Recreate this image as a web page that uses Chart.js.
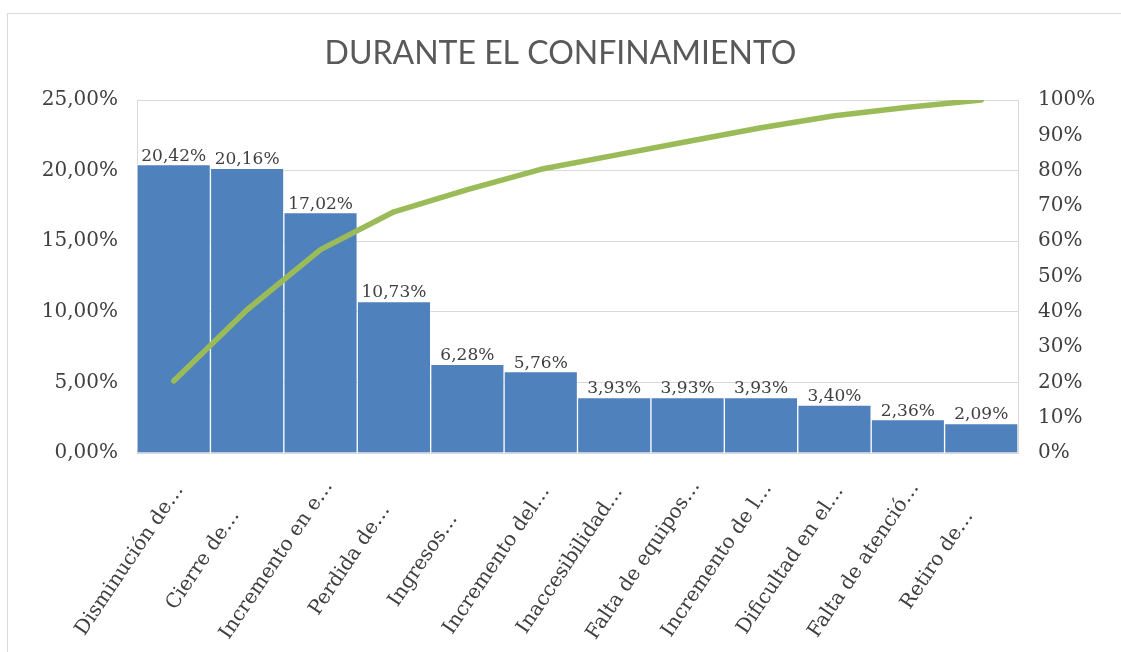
<!DOCTYPE html>
<html>
<head>
<meta charset="utf-8">
<script src="https://cdn.jsdelivr.net/npm/chart.js@4/dist/chart.umd.min.js"></script>
<style>
  body { margin: 0; background: #fff; }
  #wrap { position: relative; width: 1121px; height: 652px; }
  #frame { position: absolute; left: 7px; top: 13px; right: 0; bottom: 0; border-left: 1px solid #d9d9d9; border-top: 1px solid #d9d9d9; pointer-events: none; }
  canvas { position: absolute; left: 0; top: 0; }
</style>
</head>
<body>
<div id="wrap">
  <canvas id="graph" width="1121" height="652"></canvas>
  <div id="frame"></div>
</div>
<script>
const categories = [
  'Disminución de…', 'Cierre de…', 'Incremento en e…', 'Perdida de…',
  'Ingresos…', 'Incremento del…', 'Inaccesibilidad…', 'Falta de equipos…',
  'Incremento de l…', 'Dificultad en el…', 'Falta de atenció…', 'Retiro de…'
];
const shares = [20.42, 20.16, 17.02, 10.73, 6.28, 5.76, 3.93, 3.93, 3.93, 3.40, 2.36, 2.09];
const cumulative = [20.42, 40.58, 57.60, 68.33, 74.61, 80.37, 84.30, 88.23, 92.16, 95.56, 97.92, 100];
const leftTicks = [0, 5, 10, 15, 20, 25];
const rightTicks = [0, 10, 20, 30, 40, 50, 60, 70, 80, 90, 100];

const serif = 'DejaVu Serif';
const textColor = '#404040';

const fmt = v => v.toFixed(2).replace('.', ',') + '%';

// value labels on top of each bar
const barLabels = {
  id: 'barLabels',
  afterDatasetsDraw(chart) {
    const ctx = chart.ctx;
    const meta = chart.getDatasetMeta(0);
    ctx.save();
    ctx.font = '17px "' + serif + '"';
    ctx.fillStyle = textColor;
    ctx.textAlign = 'center';
    ctx.textBaseline = 'bottom';
    meta.data.forEach((bar, i) => {
      ctx.fillText(fmt(shares[i]), bar.x, bar.y);
    });
    ctx.restore();
  }
};

// slanted category names, each one centred on its own point below the bar
const slantedLabels = {
  id: 'slantedLabels',
  afterDraw(chart) {
    const ctx = chart.ctx;
    const xs = chart.scales.x;
    const midY = xs.bottom - 92;
    ctx.save();
    ctx.font = '20px "' + serif + '"';
    ctx.fillStyle = textColor;
    ctx.textAlign = 'center';
    ctx.textBaseline = 'middle';
    categories.forEach((name, i) => {
      ctx.save();
      ctx.translate(xs.getPixelForTick(i) - 44, midY);
      ctx.rotate(-56 * Math.PI / 180);
      ctx.fillText(name, 0, 0);
      ctx.restore();
    });
    ctx.restore();
  }
};

const graphCanvas = document.getElementById('graph');
const chart = new Chart(graphCanvas, {
  data: {
    labels: categories,
    datasets: [
      {
        type: 'bar',
        data: shares,
        backgroundColor: '#4f81bd',
        borderColor: 'rgba(255,255,255,0.35)',
        borderWidth: 1,
        borderSkipped: 'bottom',
        barPercentage: 1,
        categoryPercentage: 1,
        yAxisID: 'y',
        order: 2
      },
      {
        type: 'line',
        data: cumulative,
        borderColor: '#9bbb59',
        borderWidth: 5.5,
        borderCapStyle: 'round',
        borderJoinStyle: 'round',
        pointRadius: 0,
        tension: 0,
        yAxisID: 'y1',
        order: 1
      }
    ]
  },
  options: {
    responsive: false,
    animation: false,
    events: [],
    layout: { padding: 0 },
    plugins: {
      legend: { display: false },
      tooltip: { enabled: false },
      title: {
        display: true,
        text: 'DURANTE EL CONFINAMIENTO',
        color: '#595959',
        font: { family: 'Lato', size: 32, weight: 'normal' },
        padding: { top: 34, bottom: 27.6 }
      }
    },
    scales: {
      x: {
        grid: { display: false },
        border: { display: false },
        ticks: { display: false },
        afterFit(scale) { scale.height = 199; }
      },
      y: {
        position: 'left',
        min: 0,
        max: 25,
        afterBuildTicks(scale) { scale.ticks = leftTicks.map(v => ({ value: v })); },
        grid: { color: '#d9d9d9', lineWidth: 1, drawTicks: false },
        border: { display: true, color: '#d9d9d9' },
        ticks: {
          color: textColor,
          font: { family: serif, size: 20 },
          padding: 19,
          callback: v => fmt(v)
        },
        afterFit(scale) { scale.width = 137; }
      },
      y1: {
        position: 'right',
        min: 0,
        max: 100,
        afterBuildTicks(scale) { scale.ticks = rightTicks.map(v => ({ value: v })); },
        grid: { display: false, drawTicks: false },
        border: { display: true, color: '#d9d9d9' },
        ticks: {
          color: textColor,
          font: { family: serif, size: 20 },
          padding: 20,
          callback: v => v + '%'
        },
        afterFit(scale) { scale.width = 103; }
      }
    }
  },
  plugins: [barLabels, slantedLabels]
});
</script>
</body>
</html>
